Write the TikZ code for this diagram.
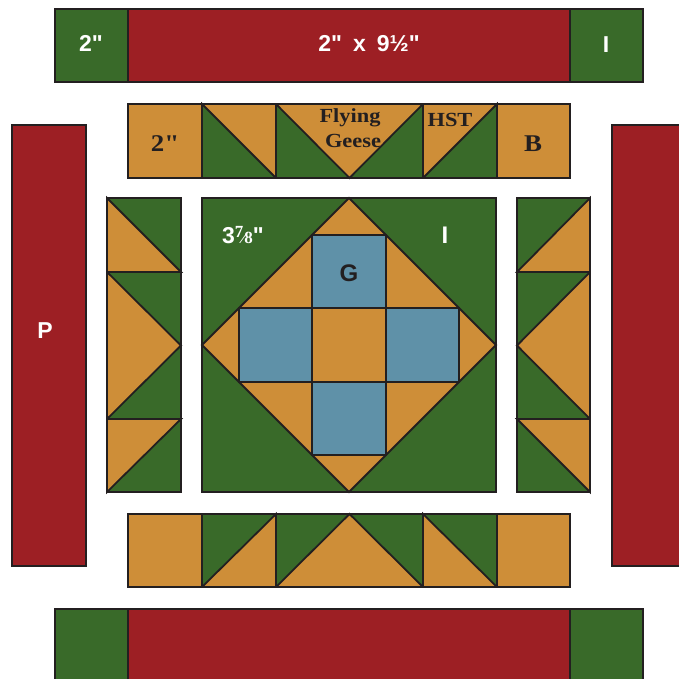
\documentclass[tikz,border=0pt]{standalone}
\usepackage{fontspec}
\setmainfont{Latin Modern Roman}[Ligatures=TeXOff]
\setsansfont{Liberation Sans}[Ligatures=TeXOff]
\newfontfamily\lserif{Liberation Serif}[Ligatures=TeXOff]
\newfontfamily\gserif{Liberation Serif}[Ligatures=TeXOff, FakeStretch=1.12]
\definecolor{qg}{HTML}{396A29}
\definecolor{qr}{HTML}{9D1F24}
\definecolor{qo}{HTML}{CE8E38}
\definecolor{qb}{HTML}{5F91A8}
\definecolor{ol}{HTML}{231F20}
\begin{document}
\begin{tikzpicture}[x=1pt,y=-1pt,
  piece/.style={draw=ol, line width=1.8pt, line join=miter},
  g/.style={piece, fill=qg},
  o/.style={piece, fill=qo},
  r/.style={piece, fill=qr},
  b/.style={piece, fill=qb},
  wlab/.style={text=white, font=\sffamily\bfseries\fontsize{23}{23}\selectfont, anchor=base, inner sep=0pt},
  dlab/.style={text=ol, font=\sffamily\bfseries\fontsize{24}{24}\selectfont, anchor=base, inner sep=0pt},
  slab/.style={text=ol, font=\gserif\bfseries\fontsize{20}{20}\selectfont, anchor=base, inner sep=0pt},
  blab/.style={text=ol, font=\gserif\bfseries\fontsize{24}{24}\selectfont, anchor=base, inner sep=0pt}]
\useasboundingbox (0,0) rectangle (679,679);
% top bar
\draw[g] (55,9) rectangle (128,82);
\draw[r] (128,9) rectangle (570,82);
\draw[g] (570,9) rectangle (643,82);
% bottom bar
\draw[g] (55,609) rectangle (128,690);
\draw[r] (128,609) rectangle (570,690);
\draw[g] (570,609) rectangle (643,690);
% side bars
\draw[r] (12,125) rectangle (86,566);
\draw[r] (612,125) rectangle (690,566);
% top row
\draw[o] (128,104) rectangle (202,178);
\draw[o] (202,104) rectangle (276,178);
\draw[g] (202,104) -- (276,178) -- (202,178) -- cycle;
\draw[g] (276,104) rectangle (423,178);
\draw[o] (276,104) -- (423,104) -- (349.5,178) -- cycle;
\draw[o] (423,104) rectangle (497,178);
\draw[g] (497,104) -- (497,178) -- (423,178) -- cycle;
\draw[o] (497,104) rectangle (570,178);
% left column
\draw[g] (107,198) rectangle (181,272);
\draw[o] (107,198) -- (181,272) -- (107,272) -- cycle;
\draw[g] (107,272) rectangle (181,419);
\draw[o] (107,272) -- (181,345.5) -- (107,419) -- cycle;
\draw[g] (107,419) rectangle (181,492);
\draw[o] (107,419) -- (181,419) -- (107,492) -- cycle;
% right column
\draw[g] (517,198) rectangle (590,272);
\draw[o] (590,198) -- (590,272) -- (517,272) -- cycle;
\draw[g] (517,272) rectangle (590,419);
\draw[o] (590,272) -- (590,419) -- (517,345.5) -- cycle;
\draw[g] (517,419) rectangle (590,492);
\draw[o] (517,419) -- (590,419) -- (590,492) -- cycle;
% bottom row
\draw[o] (128,514) rectangle (202,587);
\draw[g] (202,514) rectangle (276,587);
\draw[o] (276,514) -- (276,587) -- (202,587) -- cycle;
\draw[g] (276,514) rectangle (423,587);
\draw[o] (276,587) -- (349.5,514) -- (423,587) -- cycle;
\draw[g] (423,514) rectangle (497,587);
\draw[o] (423,514) -- (497,587) -- (423,587) -- cycle;
\draw[o] (497,514) rectangle (570,587);
% center block
\draw[g] (202,198) rectangle (496,492);
\draw[o] (349,198) -- (496,345) -- (349,492) -- (202,345) -- cycle;
\draw[b] (312.25,234.75) rectangle (385.75,308.25);
\draw[b] (238.75,308.25) rectangle (312.25,381.75);
\draw[o] (312.25,308.25) rectangle (385.75,381.75);
\draw[b] (385.75,308.25) rectangle (459.25,381.75);
\draw[b] (312.25,381.75) rectangle (385.75,455.25);
% labels
\node[wlab] (t2) at (91,52) {2"};
\node[wlab] (tlen) at (369,52) {2"\hspace{11pt}x\hspace{11pt}9½"};
\node[wlab] (tI) at (606,53) {I};
\node[wlab] (lP) at (45,338) {P};
\node[wlab, anchor=base west] (c38) at (222,243) {3{\lserif\bfseries\fontsize{17}{17}\selectfont\raisebox{6pt}{7}\kern-1pt⁄\kern-1pt8}"};
\node[dlab, text=white] (cI) at (445,243) {I};
\node[dlab] (cG) at (349,281) {G};
\node[blab] (s2) at (165,152) {2"};
\node[blab] (sB) at (533,152) {B};
\node[slab] (fl) at (350,123) {Flying};
\node[slab] (ge) at (353,148) {Geese};
\node[slab] (hst) at (450,127) {HST};
\end{tikzpicture}
\end{document}
